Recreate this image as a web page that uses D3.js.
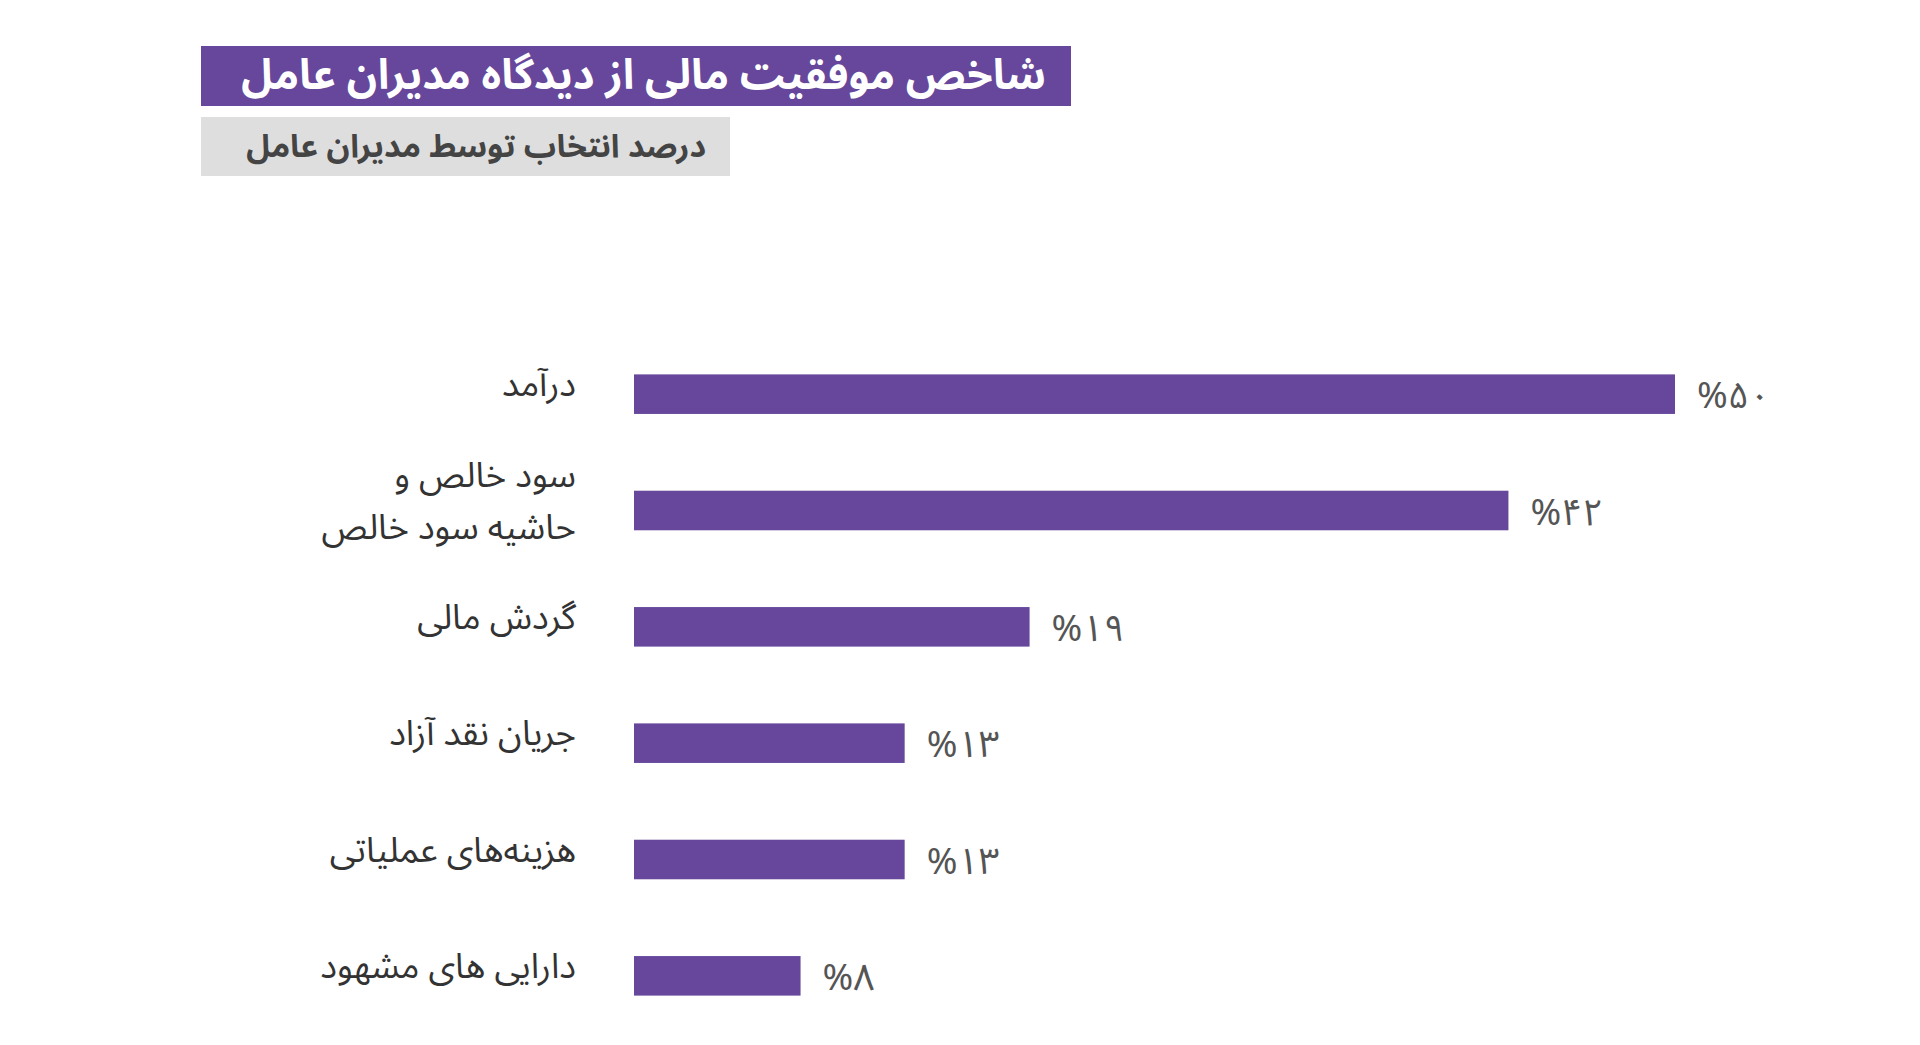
<!DOCTYPE html>
<html><head><meta charset="utf-8">
<script src="https://cdn.jsdelivr.net/npm/d3@7"></script>
<style>body{margin:0;background:#fff}svg{display:block}text{font-family:"Noto Sans Arabic","Vazirmatn","DejaVu Sans",sans-serif}</style>
</head><body><svg id="c" width="1920" height="1045"></svg>
<script>
const categories = [["درآمد"],["سود خالص و","حاشیه سود خالص"],["گردش مالی"],["جریان نقد آزاد"],["هزینه‌های عملیاتی"],["دارایی های مشهود"]];
const values = [50,42,19,13,13,8];
const valueLabels = ["%۵۰","%۴۲","%۱۹","%۱۳","%۱۳","%۸"];
const title = "شاخص موفقیت مالی از دیدگاه مدیران عامل";
const subtitle = "درصد انتخاب توسط مدیران عامل";

const svg = d3.select("#c");
const purple = "#66479b";
svg.append("rect").attr("x",201).attr("y",46).attr("width",870).attr("height",60).attr("fill",purple);
svg.append("text").attr("x",1046).attr("y",89).attr("direction","rtl")
  .attr("font-size",42).attr("font-weight","bold").attr("fill","#fff").text(title);
svg.append("rect").attr("x",201).attr("y",117).attr("width",529).attr("height",59).attr("fill","#dedede");
svg.append("text").attr("x",706).attr("y",157).attr("direction","rtl")
  .attr("font-size",32).attr("font-weight","bold").attr("fill","#444").text(subtitle);

const x = d3.scaleLinear().domain([0,50]).range([634,1675]);
const y = d3.scaleBand().domain(d3.range(values.length)).range([336,1034]).paddingInner(0.66).paddingOuter(0.33);
const g = svg.append("g");
g.selectAll("rect.bar").data(values).join("rect").attr("class","bar")
  .attr("x",x(0)).attr("y",(d,i)=>y(i)).attr("width",d=>x(d)-x(0)).attr("height",y.bandwidth()).attr("fill",purple);
g.selectAll("text.val").data(values).join("text").attr("class","val")
  .attr("x",d=>x(d)+22).attr("y",(d,i)=>y(i)+y.bandwidth()/2+14).attr("font-size",37).attr("fill","#555")
  .attr("direction","ltr").text((d,i)=>valueLabels[i]);
categories.forEach((lines,i)=>{
  const cy = y(i)+y.bandwidth()/2;
  const n = lines.length;
  lines.forEach((l,j)=>{
    const yy = n===1 ? cy : cy + (j-(n-1)/2)*52;
    svg.append("text").attr("x",576).attr("y",yy+2).attr("direction","rtl").attr("font-size",35)
      .attr("fill","#333").text(l);
  });
});
</script></body></html>
